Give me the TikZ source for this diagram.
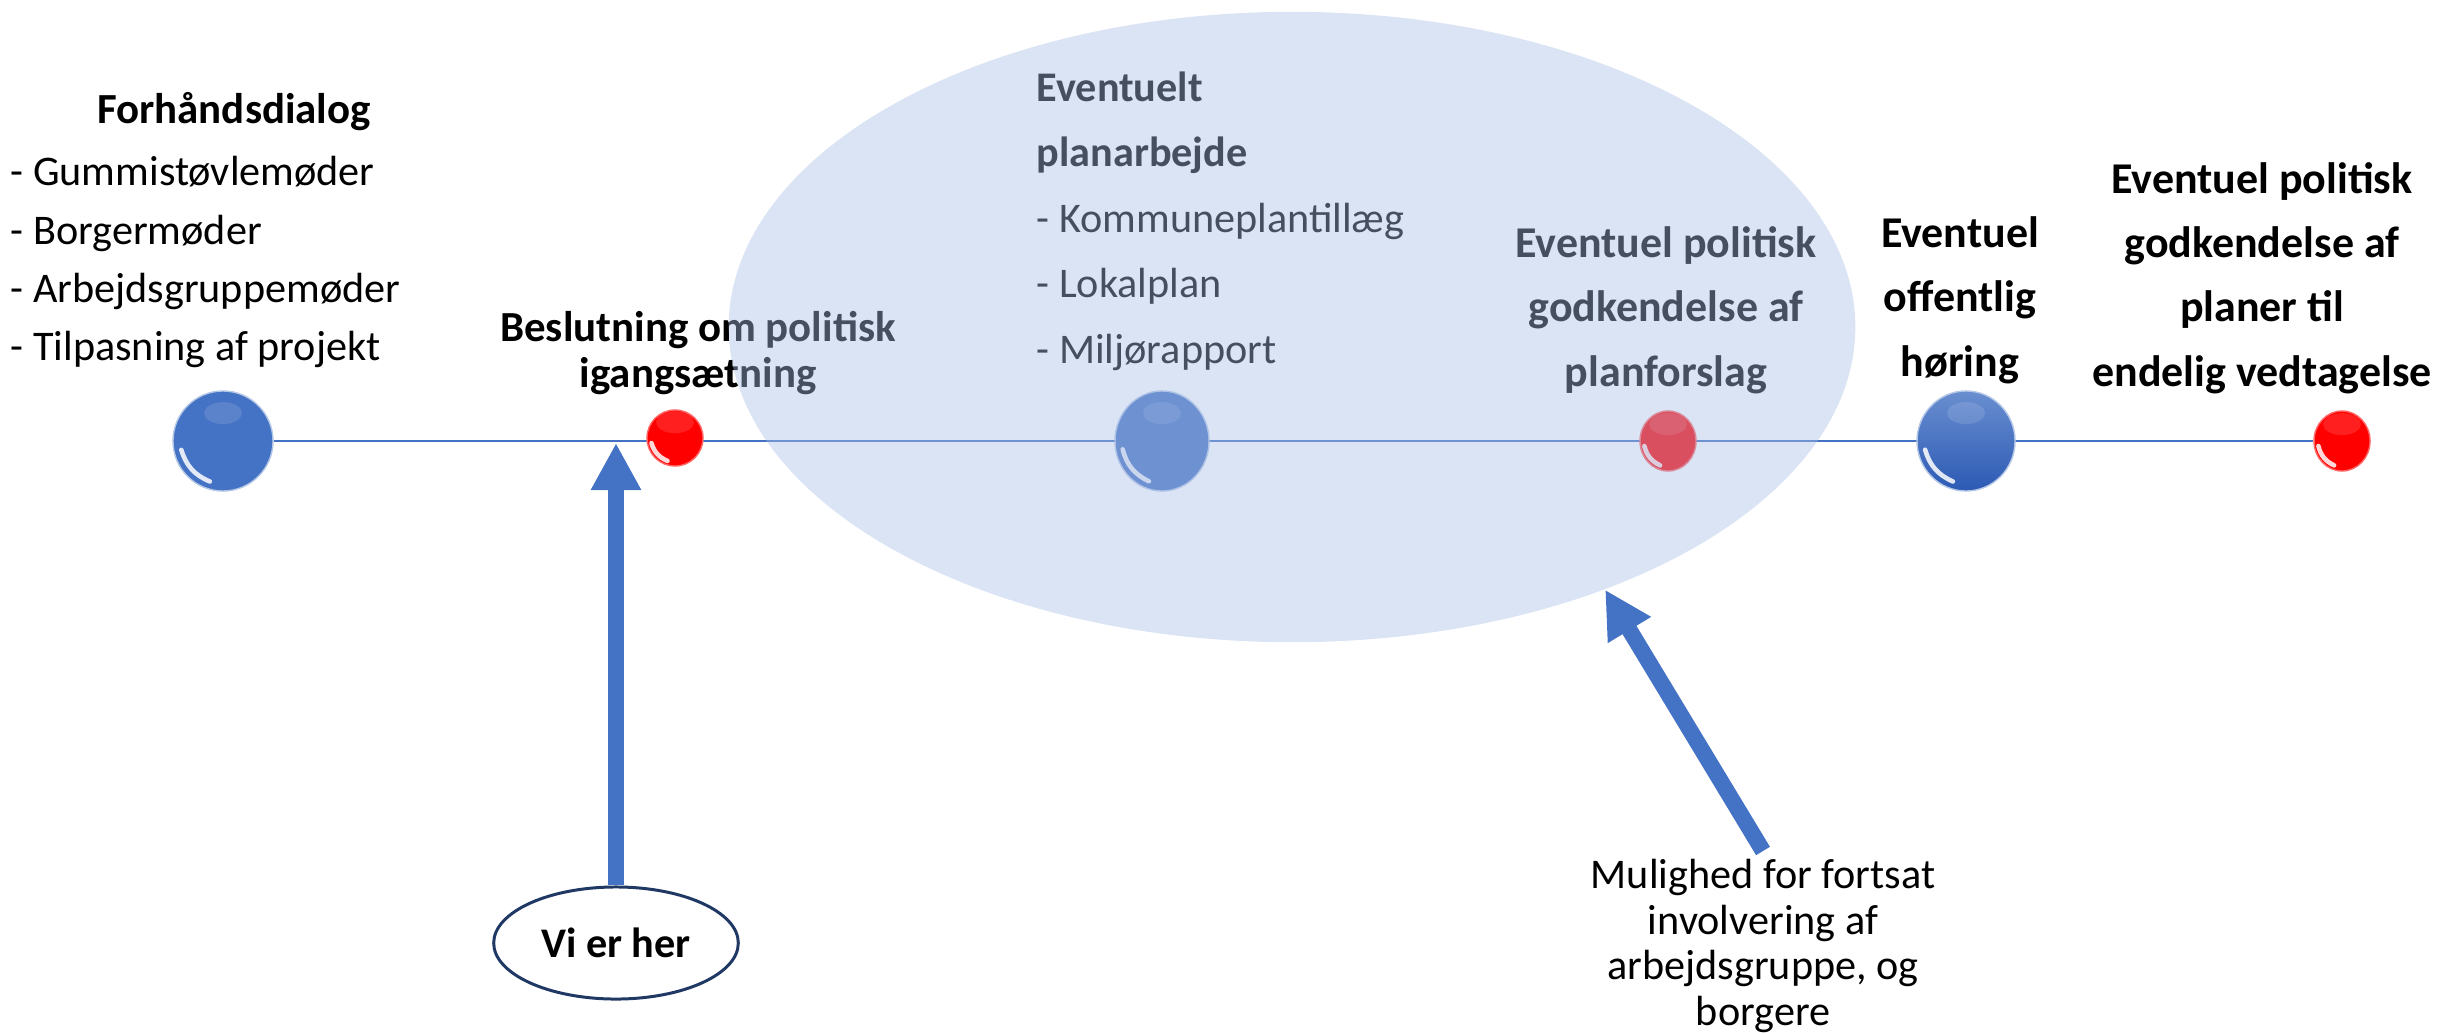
\documentclass[tikz,border=0pt]{standalone}
\usepackage{fontspec}
\setmainfont{Carlito}
\usetikzlibrary{shapes.geometric,arrows.meta,calc,backgrounds}
\definecolor{accblue}{RGB}{68,114,196}
\definecolor{ovl}{RGB}{167,190,229}
\definecolor{navy}{RGB}{31,56,100}
\definecolor{dkblue}{RGB}{44,90,180}
\newcommand\sphgloss[1]{%
  \draw[white,opacity=.85,line width=1.3pt,line cap=round]
    ($(#1.center)!0.84!(#1.192)$) to[bend right=25] ($(#1.center)!0.84!(#1.252)$);
  \fill[white,opacity=.12] ($(#1.center)!0.55!(#1.90)$) ellipse [x radius=0.19cm, y radius=0.11cm];
}
\begin{document}
\begin{tikzpicture}[x=0.01cm,y=-0.01cm,
  txt/.style={font=\fontsize{12}{16.5}\selectfont, inner sep=0pt},
  btxt/.style={font=\fontsize{12.5}{18.3}\selectfont\bfseries, inner sep=0pt, align=center},
  bsph/.style={circle, fill=accblue, draw=accblue!40!white, line width=0.4pt, inner sep=0pt},
  rsph/.style={circle, fill=red, draw=red!60!white, line width=0.4pt, inner sep=0pt},
  tl/.style={draw=accblue, line width=0.6pt},
  barrow/.style={draw=accblue, line width=4.6pt, -{Triangle[width=0.47cm,length=0.47cm]}},
]
\useasboundingbox (0,0) rectangle (2443,1033);

% timeline spheres
\node[bsph, minimum size=1.0cm] (b1) at (223,441) {};
\node[rsph, minimum size=0.56cm] (r1) at (675,438) {};
\node[bsph, ellipse, minimum width=0.94cm, minimum height=1.0cm] (b2) at (1162,441) {};
\node[rsph, ellipse, minimum width=0.56cm, minimum height=0.6cm] (r2) at (1668,441) {};
\node[ellipse, top color=accblue!80!white, bottom color=dkblue, draw=accblue!40!white, line width=0.4pt, inner sep=0pt, minimum width=0.98cm, minimum height=1.0cm] (b3) at (1966,441) {};
\node[rsph, ellipse, minimum width=0.56cm, minimum height=0.6cm] (r3) at (2342,441) {};
\foreach \s in {b1,r1,b2,r2,b3,r3} {\sphgloss{\s}}

\begin{scope}[on background layer]
\draw[tl] (b1) -- (r3);
\end{scope}

% texts
\node[btxt, font=\fontsize{12.2}{18}\selectfont\bfseries] (fh) at (234,112) {Forhåndsdialog};
\node[txt, anchor=west, align=left] (fhl) at (10,262) {- Gummistøvlemøder\\- Borgermøder\\- Arbejdsgruppemøder\\- Tilpasning af projekt};
\node[btxt, font=\fontsize{12.2}{13.2}\selectfont\bfseries] (besl) at (698,353) {Beslutning om politisk\\igangsætning};
\node[txt, anchor=west, align=left, font=\fontsize{12}{18.6}\selectfont] (plan) at (1036,221) {\textbf{Eventuelt}\\\textbf{planarbejde}\\- Kommuneplantillæg\\- Lokalplan\\- Miljørapport};
\node[btxt] (gpf) at (1666,310) {Eventuel politisk\\godkendelse af\\planforslag};
\node[btxt] (hor) at (1960,300) {Eventuel\\offentlig\\høring};
\node[btxt] (end) at (2262,278) {Eventuel politisk\\godkendelse af\\planer til\\endelig vedtagelse};

% overlay ellipse
\node[ellipse, fill=ovl, fill opacity=0.42, inner sep=0pt, minimum width=11.26cm, minimum height=6.3cm] (zone) at (1292,327) {};

% Vi er her
\node[ellipse, draw=navy, line width=0.85pt, fill=white, minimum width=2.42cm, minimum height=1.12cm, font=\fontsize{12}{14}\selectfont\bfseries] (viher) at (616,943) {Vi er her};
\coordinate (vtip) at (616,443);
\draw[barrow] (viher.north) -- (vtip);

% Mulighed
\node[txt, align=center, font=\fontsize{12}{12.9}\selectfont] (mul) at (1763,946) {Mulighed for fortsat\\involvering af\\arbejdsgruppe, og\\borgere};
\draw[barrow] ([yshift=0.08cm]mul.north) -- (zone.-40);
\end{tikzpicture}
\end{document}
